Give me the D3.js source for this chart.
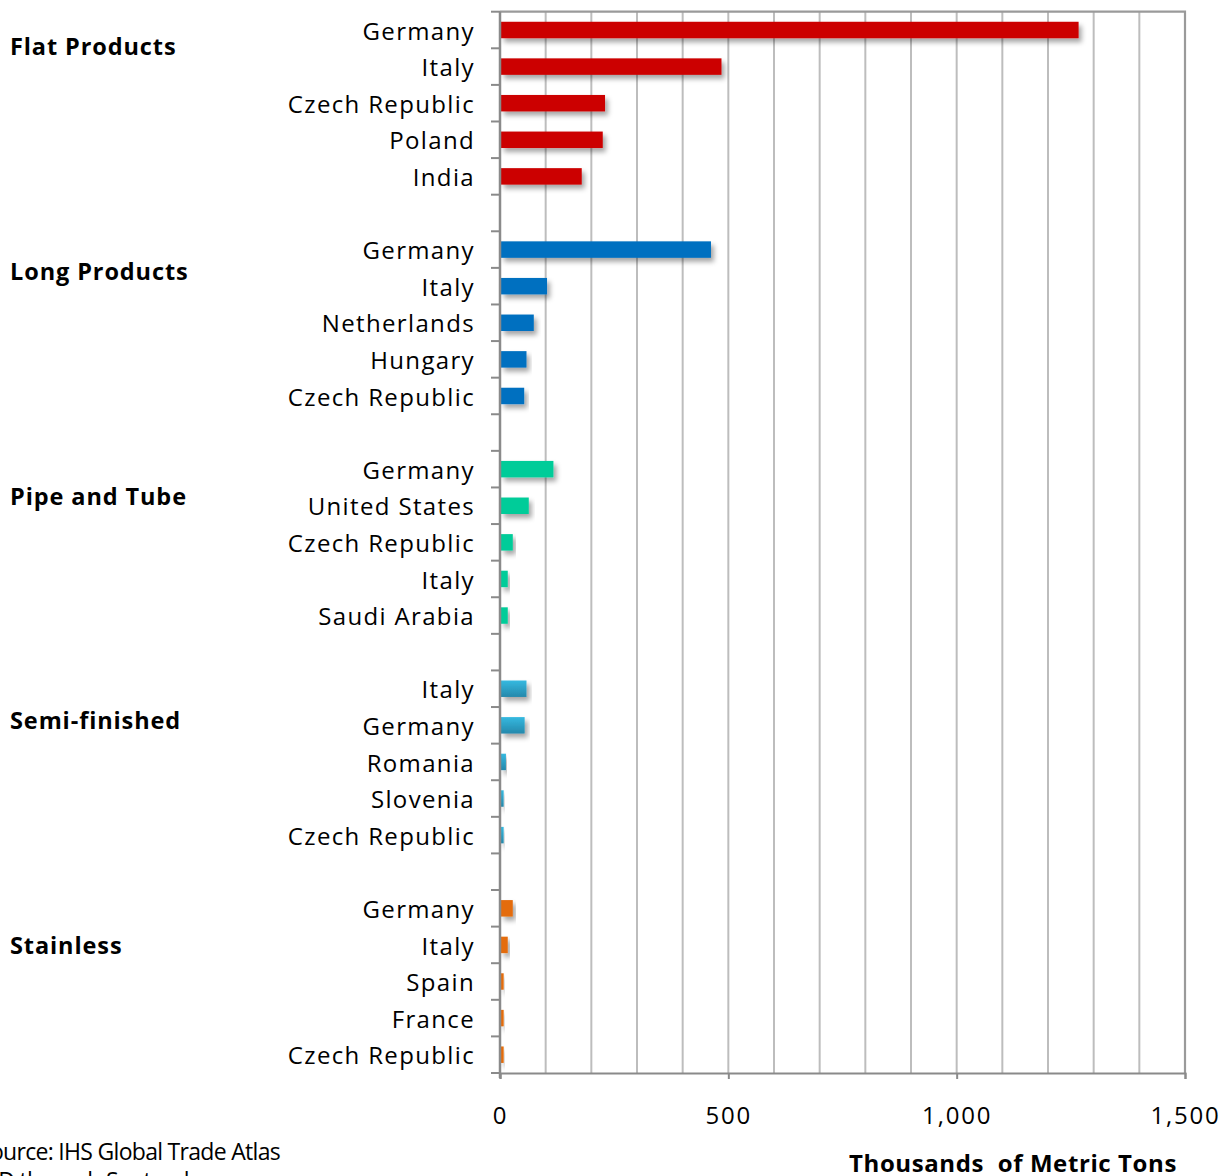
<!DOCTYPE html>
<html>
<head>
<meta charset="utf-8">
<script src="https://cdn.jsdelivr.net/npm/d3@7"></script>
<style>
  body { margin: 0; background: #fff; overflow: hidden; }
  text { font-family: "Open Sans", "Noto Sans", sans-serif; fill: #000; }
</style>
</head>
<body>
<svg id="chart" width="1230" height="1176"></svg>
<script>
// product groups, top to bottom
const groups = ["Flat Products", "Long Products", "Pipe and Tube", "Semi-finished", "Stainless"];
const groupColors = ["#cc0000", "#0070c0", "#00cc99", "url(#semiGrad)", "#e46c0a"];

// countries in each group
const flatCountries = ["Germany", "Italy", "Czech Republic", "Poland", "India"];
const longCountries = ["Germany", "Italy", "Netherlands", "Hungary", "Czech Republic"];
const pipeCountries = ["Germany", "United States", "Czech Republic", "Italy", "Saudi Arabia"];
const semiCountries = ["Italy", "Germany", "Romania", "Slovenia", "Czech Republic"];
const stainlessCountries = ["Germany", "Italy", "Spain", "France", "Czech Republic"];

// thousands of metric tons
const flatValues = [1267, 485, 230, 225, 179];
const longValues = [462, 103, 74, 58, 53];
const pipeValues = [117, 63, 28, 17, 17];
const semiValues = [58, 54, 13, 8, 8];
const stainlessValues = [28, 17, 8, 8, 8];

const xTicks = [0, 500, 1000, 1500];

const countryLists = [flatCountries, longCountries, pipeCountries, semiCountries, stainlessCountries];
const valueLists = [flatValues, longValues, pipeValues, semiValues, stainlessValues];

// build rows, with an empty row between groups
let rows = [];
groups.forEach((g, gi) => {
    countryLists[gi].forEach((c, i) => {
        rows.push({ id: g + "|" + c, country: c, value: valueLists[gi][i], group: gi });
    });
    if (gi < groups.length - 1) rows.push({ id: "gap" + gi, country: "", value: null, group: gi });
});

const plotLeft = 500, plotRight = 1185, plotTop = 11.7, plotBottom = 1073;

const svg = d3.select("#chart");

const defs = svg.append("defs");
const grad = defs.append("linearGradient").attr("id", "semiGrad")
    .attr("x1", 0).attr("y1", 0).attr("x2", 0).attr("y2", 1);
grad.append("stop").attr("offset", "0%").attr("stop-color", "#35b9e0");
grad.append("stop").attr("offset", "100%").attr("stop-color", "#2588ab");

const shadow = defs.append("filter").attr("id", "shadow")
    .attr("x", "-10%").attr("y", "-50%").attr("width", "130%").attr("height", "250%");
shadow.append("feDropShadow").attr("dx", 3).attr("dy", 4).attr("stdDeviation", 2.5)
    .attr("flood-color", "#000").attr("flood-opacity", 0.35);

let x = d3.scaleLinear().domain([0, 1500]).range([plotLeft, plotRight]);
let y = d3.scaleBand().domain(rows.map(d => d.id)).range([plotTop, plotBottom]).paddingInner(0.55).paddingOuter(0.275);
let step = y.step();

// gridlines every 100
svg.append("g").selectAll("line")
    .data(d3.range(100, 1500, 100))
    .enter().append("line")
    .attr("x1", d => x(d)).attr("x2", d => x(d))
    .attr("y1", plotTop).attr("y2", plotBottom)
    .attr("stroke", "#bdbdbd").attr("stroke-width", 2);

// plot border (top and right)
svg.append("path")
    .attr("d", `M${plotLeft},${plotTop}H${plotRight}V${plotBottom}`)
    .attr("fill", "none").attr("stroke", "#9a9a9a").attr("stroke-width", 2.2);

// bars
svg.append("g").selectAll("rect")
    .data(rows.filter(d => d.value !== null))
    .enter().append("rect")
    .attr("x", x(0) + 1)
    .attr("y", d => y(d.id))
    .attr("height", y.bandwidth())
    .attr("width", d => x(d.value) - x(0) - 1)
    .attr("fill", d => groupColors[d.group])
    .attr("filter", "url(#shadow)");

// left category axis
const yAxis = d3.axisLeft(y).tickSize(0).tickPadding(25).tickFormat(id => rows.find(r => r.id === id).country);
const yG = svg.append("g").attr("transform", `translate(${plotLeft},0)`).call(yAxis);
yG.select(".domain").remove();
yG.selectAll("text").attr("font-size", 24).attr("fill", "#000").attr("font-family", null)
    .attr("dy", "0.4em").attr("letter-spacing", 1.35);

// category boundary ticks
svg.append("g").selectAll("line")
    .data(d3.range(rows.length + 1))
    .enter().append("line")
    .attr("x1", plotLeft - 9).attr("x2", plotLeft)
    .attr("y1", i => plotTop + i * step).attr("y2", i => plotTop + i * step)
    .attr("stroke", "#8a8a8a").attr("stroke-width", 2);

svg.append("line")
    .attr("x1", plotLeft).attr("x2", plotLeft).attr("y1", plotTop).attr("y2", plotBottom + 5)
    .attr("stroke", "#8a8a8a").attr("stroke-width", 2.5);

// bottom value axis
const xAxis = d3.axisBottom(x).tickValues(xTicks).tickSize(6).tickPadding(28).tickFormat(d3.format(","));
const xG = svg.append("g").attr("transform", `translate(0,${plotBottom})`).call(xAxis);
xG.select(".domain").attr("stroke", "#8a8a8a").attr("stroke-width", 2);
xG.selectAll("line").attr("stroke", "#8a8a8a").attr("stroke-width", 2);
xG.selectAll("text").attr("font-size", 24).attr("fill", "#000").attr("font-family", null)
    .attr("letter-spacing", 1.8);

// group labels
let gy = d3.scalePoint().domain(groups).range([47, 946]);
svg.append("g").selectAll("text")
    .data(groups)
    .enter().append("text")
    .attr("x", 10).attr("y", d => gy(d))
    .attr("dy", "0.35em")
    .attr("font-size", 23.5).attr("font-weight", "bold")
    .attr("letter-spacing", 0.9)
    .text(d => d);

// axis title
svg.append("text")
    .attr("x", 1013).attr("y", 1172)
    .attr("text-anchor", "middle")
    .attr("font-size", 24).attr("font-weight", "bold")
    .attr("letter-spacing", 0.6)
    .style("white-space", "pre")
    .text("Thousands  of Metric Tons");

// source note (cut at the page edge, as in the original)
svg.append("text")
    .attr("x", 280).attr("y", 1160)
    .attr("text-anchor", "end")
    .attr("font-size", 23)
    .attr("letter-spacing", -0.7)
    .text("Source: IHS Global Trade Atlas");
svg.append("text")
    .attr("x", -26).attr("y", 1189)
    .attr("font-size", 23)
    .attr("letter-spacing", -0.7)
    .text("YTD through September");
</script>
</body>
</html>
